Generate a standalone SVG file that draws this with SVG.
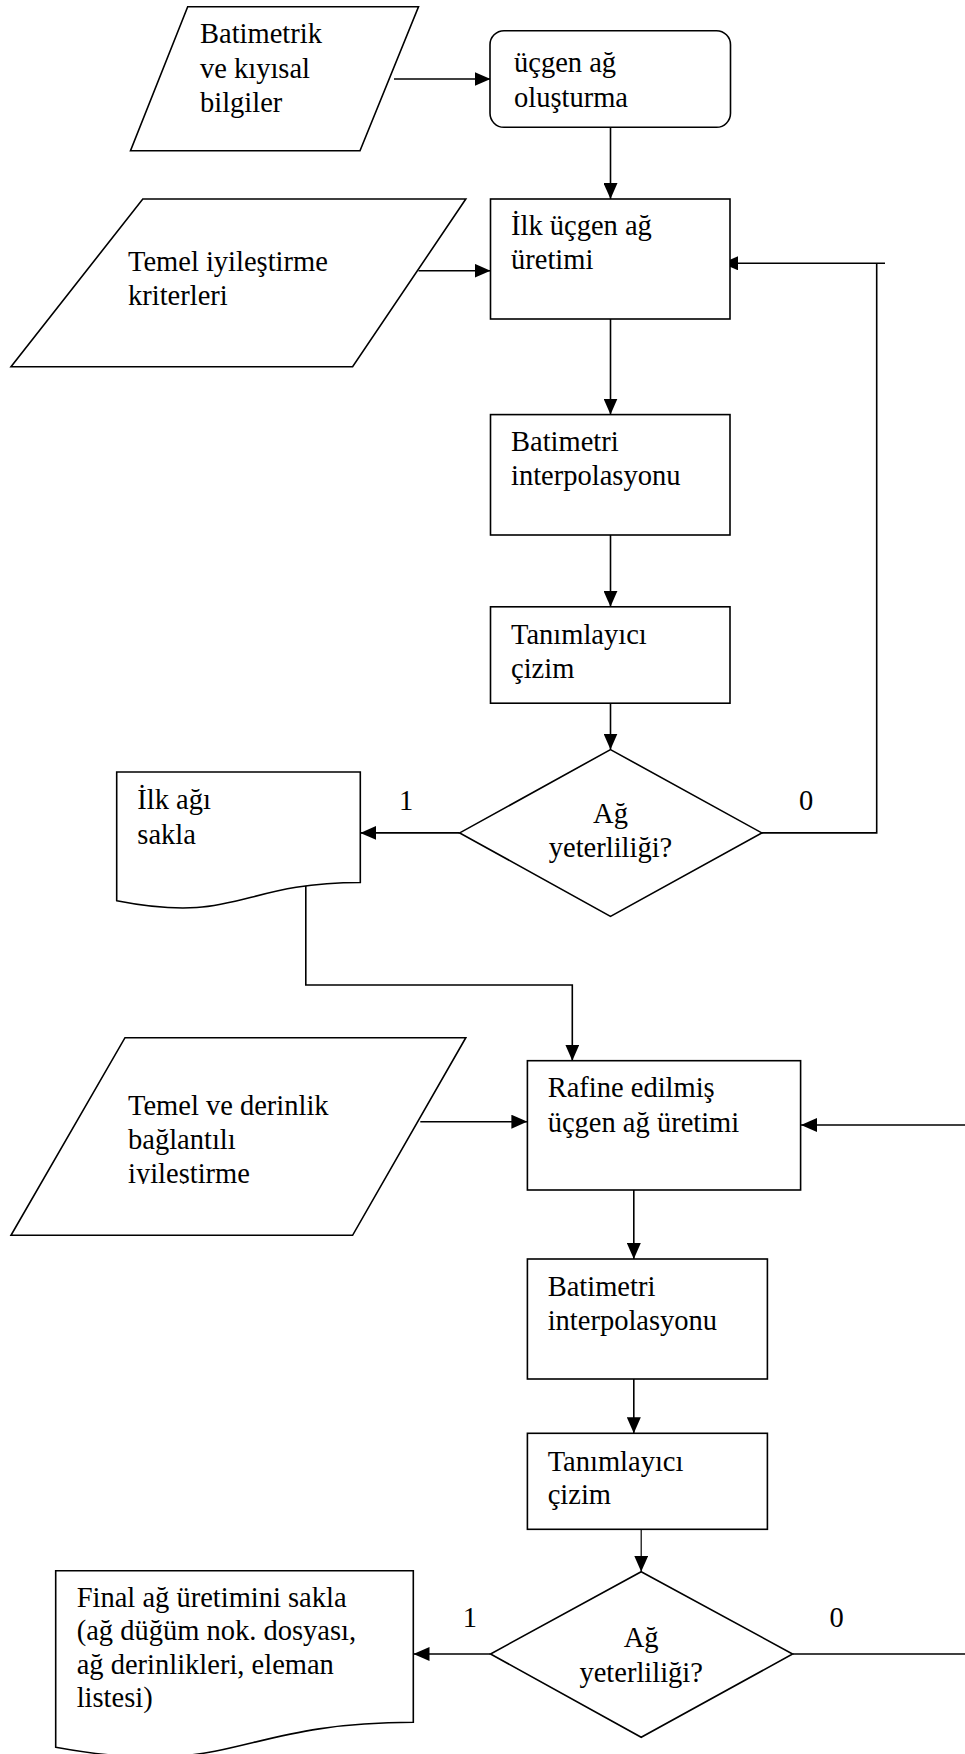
<svg xmlns="http://www.w3.org/2000/svg" width="965" height="1754" viewBox="0 0 965 1754">
<defs>
<style>
.s{fill:#fff;stroke:#000;stroke-width:1.6}
.t{font-family:"Liberation Serif","Times New Roman",serif;font-size:28.5px;fill:#000}
.c{fill:none;stroke:#000;stroke-width:1.6}
.m{text-anchor:middle}
</style>
<marker id="ah" viewBox="0 0 16 14" refX="16" refY="7" markerWidth="16" markerHeight="14" markerUnits="userSpaceOnUse" orient="auto">
<path d="M0,0 L16,7 L0,14 Z" fill="#000"/>
</marker>
<clipPath id="clip3"><rect x="0" y="1030" width="480" height="154"/></clipPath>
</defs>
<rect width="965" height="1754" fill="#fff"/>
<g id="connectors">
<line class="c" x1="394" y1="79" x2="490.5" y2="79" marker-end="url(#ah)"/>
<line class="c" x1="610.5" y1="127.3" x2="610.5" y2="199" marker-end="url(#ah)"/>
<line class="c" x1="418.5" y1="270.7" x2="490.5" y2="270.7" marker-end="url(#ah)"/>
<line class="c" x1="610.5" y1="319" x2="610.5" y2="414.6" marker-end="url(#ah)"/>
<line class="c" x1="610.5" y1="535" x2="610.5" y2="606.8" marker-end="url(#ah)"/>
<line class="c" x1="610.5" y1="703.2" x2="610.5" y2="749.6" marker-end="url(#ah)"/>
<line class="c" x1="459.7" y1="832.9" x2="360.3" y2="832.9" marker-end="url(#ah)"/>
<polyline class="c" points="761.8,832.9 876.7,832.9 876.7,263.3"/>
<line class="c" x1="885" y1="263.3" x2="722" y2="263.3" marker-end="url(#ah)"/>
<polyline class="c" points="305.8,884 305.8,985 572.3,985 572.3,1060.7" marker-end="url(#ah)"/>
<line class="c" x1="420.3" y1="1121.7" x2="527.4" y2="1121.7" marker-end="url(#ah)"/>
<line class="c" x1="965" y1="1125" x2="801" y2="1125" marker-end="url(#ah)"/>
<line class="c" x1="633.8" y1="1190" x2="633.8" y2="1259" marker-end="url(#ah)"/>
<line class="c" x1="633.8" y1="1379" x2="633.8" y2="1433.3" marker-end="url(#ah)"/>
<line class="c" x1="641.2" y1="1524" x2="641.2" y2="1571.7" marker-end="url(#ah)" style="stroke-width:1.2"/>
<line class="c" x1="490.5" y1="1654" x2="413.5" y2="1654" marker-end="url(#ah)"/>
<line class="c" x1="792.6" y1="1654" x2="965" y2="1654"/>
<text class="t" x="399" y="810.4">1</text>
<text class="t" x="799" y="810.4">0</text>
<text class="t" x="462.8" y="1626.7">1</text>
<text class="t" x="829.5" y="1626.7">0</text>
</g>
<g id="input1">
<polygon class="s" points="187.7,6.7 418.5,6.7 360,150.7 130.5,150.7"/>
<text class="t" x="200" y="43.3">Batimetrik</text>
<text class="t" x="200" y="77.5">ve kıyısal</text>
<text class="t" x="200" y="111.7">bilgiler</text>
</g>
<g id="mesh-create">
<rect class="s" x="490" y="30.7" width="240.5" height="96.6" rx="14"/>
<text class="t" x="514" y="72">üçgen ağ</text>
<text class="t" x="514" y="106.5">oluşturma</text>
</g>
<g id="initial-mesh">
<rect class="s" x="490.5" y="199" width="239.5" height="120"/>
<text class="t" x="511" y="235">İlk üçgen ağ</text>
<text class="t" x="511" y="269">üretimi</text>
</g>
<g id="input2">
<polygon class="s" points="142.8,199 465.8,199 352.6,366.7 11,366.7"/>
<text class="t" x="128" y="271">Temel iyileştirme</text>
<text class="t" x="128" y="304.5">kriterleri</text>
</g>
<g id="interp1">
<rect class="s" x="490.5" y="414.6" width="239.5" height="120.4"/>
<text class="t" x="511" y="451.4">Batimetri</text>
<text class="t" x="511" y="485.4">interpolasyonu</text>
</g>
<g id="desc1">
<rect class="s" x="490.5" y="606.8" width="239.5" height="96.4"/>
<text class="t" x="511" y="644.3">Tanımlayıcı</text>
<text class="t" x="511" y="677.5">çizim</text>
</g>
<g id="decision1">
<polygon class="s" points="610.5,749.6 761.8,832.9 610.5,916.4 459.7,832.9"/>
<text class="t m" x="610.5" y="822.9">Ağ</text>
<text class="t m" x="610.5" y="856.8">yeterliliği?</text>
</g>
<g id="save1">
<path class="s" d="M116.7,772 H360.3 V882.5 C238.5,882.5 238.5,924.6 116.7,900.7 Z"/>
<text class="t" x="137.3" y="809">İlk ağı</text>
<text class="t" x="137.3" y="843.5">sakla</text>
</g>
<g id="refined-mesh">
<rect class="s" x="527.4" y="1060.7" width="273.2" height="129.3"/>
<text class="t" x="547.7" y="1096.7">Rafine edilmiş</text>
<text class="t" x="547.7" y="1131.7">üçgen ağ üretimi</text>
</g>
<g id="input3">
<polygon class="s" points="125,1037.7 465.8,1037.7 352.6,1235.3 11,1235.3"/>
<text class="t" x="128" y="1115">Temel ve derinlik</text>
<text class="t" x="128" y="1149.3">bağlantılı</text>
<text class="t" x="128" y="1183.3" clip-path="url(#clip3)">iyileştirme</text>
</g>
<g id="interp2">
<rect class="s" x="527.4" y="1259" width="240" height="120"/>
<text class="t" x="547.7" y="1295.7">Batimetri</text>
<text class="t" x="547.7" y="1330">interpolasyonu</text>
</g>
<g id="desc2">
<rect class="s" x="527.4" y="1433.3" width="240" height="96"/>
<text class="t" x="547.7" y="1471">Tanımlayıcı</text>
<text class="t" x="547.7" y="1504.3">çizim</text>
</g>
<g id="decision2">
<polygon class="s" points="641.2,1571.7 792.6,1654 641.2,1737.3 490.5,1654"/>
<text class="t m" x="641.2" y="1646.7">Ağ</text>
<text class="t m" x="641.2" y="1681.7">yeterliliği?</text>
</g>
<g id="save2">
<path class="s" d="M55.7,1570.7 H413.3 V1722.3 C234.5,1722.3 234.5,1780 55.7,1747.2 Z"/>
<text class="t" x="76.7" y="1606.7">Final ağ üretimini sakla</text>
<text class="t" x="76.7" y="1640">(ağ düğüm nok. dosyası,</text>
<text class="t" x="76.7" y="1673.5">ağ derinlikleri, eleman</text>
<text class="t" x="76.7" y="1707">listesi)</text>
</g>
</svg>
